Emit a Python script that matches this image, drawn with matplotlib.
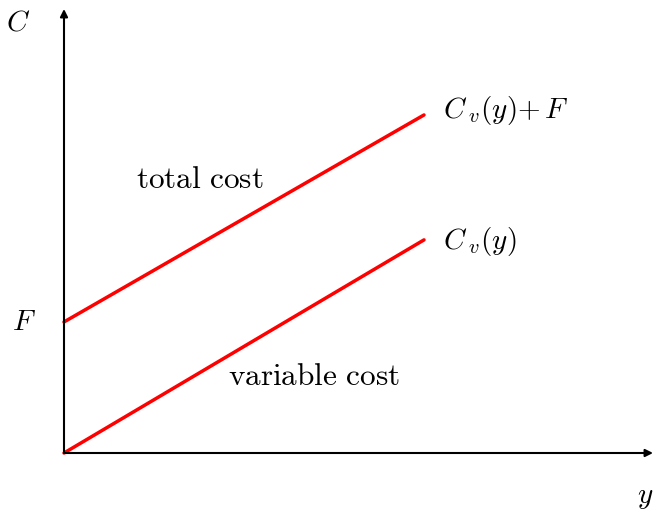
import matplotlib
matplotlib.use("Agg")
import matplotlib.pyplot as plt

plt.rcParams['mathtext.fontset'] = 'cm'

# data (output y, costs in arbitrary units)
output = [0, 10]
variable_cost = [0, 5.92]
fixed_cost = 3.64
total_cost = [3.64, 9.39]

# one data unit = 36 px, origin at pixel (64, 453)
W, H = 654, 511
ox, oy, unit = 64, 453, 36

fig = plt.figure(figsize=(W / 100, H / 100), dpi=100)
ax = fig.add_axes([0, 0, 1, 1])
ax.set_xlim(-ox / unit, (W - ox) / unit)
ax.set_ylim(-(H - oy) / unit, oy / unit)
ax.axis('off')

# axes with arrows
arr = dict(arrowstyle='-|>', color='black', lw=1.5, mutation_scale=11, shrinkA=0, shrinkB=0)
ax.annotate('', xy=((W - 1 - ox) / unit, 0), xytext=(0, 0), arrowprops=arr)
ax.annotate('', xy=(0, (oy - 9) / unit), xytext=(0, 0), arrowprops=arr)

ax.plot(output, variable_cost, color='red', lw=2.5, solid_capstyle='round')
ax.plot(output, total_cost, color='red', lw=2.5, solid_capstyle='round')

fs = 21
ax.text(-46 / unit, (oy - 22) / unit, r'$C$', fontsize=fs, ha='center', va='center')
ax.text(-40 / unit, fixed_cost, r'$F$', fontsize=fs, ha='center', va='center')
ax.text((645 - ox) / unit, -44 / unit, r'$y$', fontsize=fs, ha='center', va='center')

ax.text(output[-1] + 19 / unit, total_cost[-1] + 4 / unit, r'$C_{\;v}(y){+}\,F$',
        fontsize=fs, ha='left', va='center')
ax.text(output[-1] + 19 / unit, variable_cost[-1] - 2 / unit, r'$C_{\;v}(y)$',
        fontsize=fs, ha='left', va='center')

ax.text((200 - ox) / unit, (oy - 179) / unit, r'$\mathrm{total\ cost}$',
        fontsize=22.5, ha='center', va='center')
ax.text((314 - ox) / unit, (oy - 376) / unit, r'$\mathrm{variable\ cost}$',
        fontsize=22.5, ha='center', va='center')

fig.savefig('out.png', dpi=100)
